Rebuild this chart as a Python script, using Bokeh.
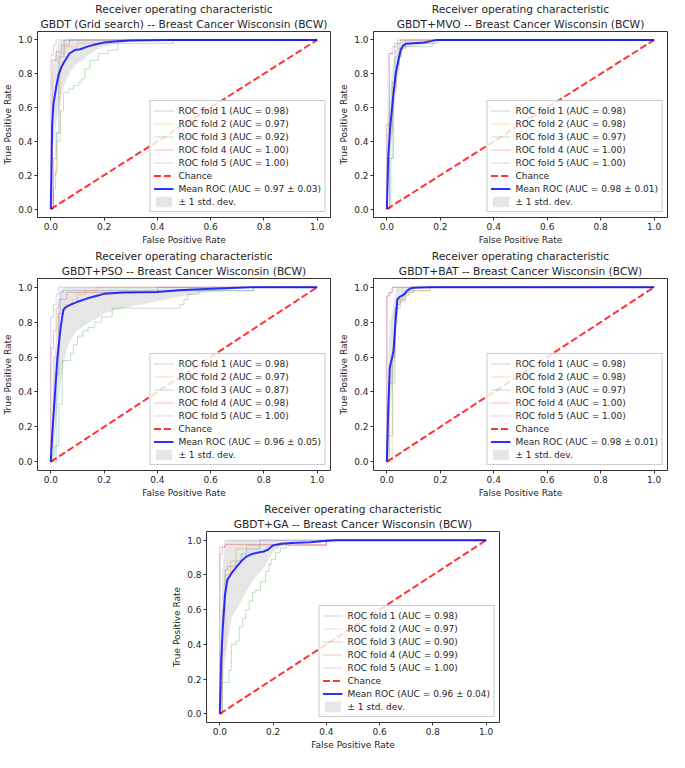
from bokeh.plotting import figure
from bokeh.layouts import column, row, Spacer
from bokeh.models import Range1d, FixedTicker, Legend, LegendItem, Title
from bokeh.embed import file_html
from bokeh.resources import INLINE

# ---------------- data ----------------
tick_values = [0.0, 0.2, 0.4, 0.6, 0.8, 1.0]
tick_labels = ["0.0", "0.2", "0.4", "0.6", "0.8", "1.0"]
chance_x = [0.0, 1.0]
chance_y = [0.0, 1.0]
title_line1 = "Receiver operating characteristic"
x_label = "False Positive Rate"
y_label = "True Positive Rate"

# Panel 1: GBDT (Grid search)
grid_title = "GBDT (Grid search) -- Breast Cancer Wisconsin (BCW)"
grid_auc = ["0.98", "0.97", "0.92", "1.00", "1.00"]
grid_mean_auc = "0.97 \u00b1 0.03"
grid_fold_fpr = [
    [0, 0.01, 0.02, 0.03, 0.05, 1.0],
    [0, 0.01, 0.02, 0.035, 0.05, 0.1, 0.25, 1.0],
    [0, 0.01, 0.018, 0.024, 0.036, 0.048, 0.067, 0.085, 0.105, 0.116, 0.128, 0.147, 0.178, 0.215, 0.251, 0.46, 1.0],
    [0, 0.005, 0.02, 0.04, 0.07, 1.0],
    [0, 0.0, 0.01, 0.02, 1.0],
]
grid_fold_tpr = [
    [0, 0.3, 0.45, 0.9, 1.0, 1.0],
    [0, 0.2, 0.4, 0.92, 0.96, 0.98, 1.0, 1.0],
    [0, 0.12, 0.22, 0.45, 0.58, 0.69, 0.71, 0.73, 0.75, 0.77, 0.83, 0.88, 0.92, 0.94, 0.98, 1.0, 1.0],
    [0, 0.88, 0.93, 0.97, 1.0, 1.0],
    [0, 0.91, 0.97, 1.0, 1.0],
]
grid_mean_fpr = [0, 0.005, 0.01, 0.02, 0.03, 0.04, 0.05, 0.07, 0.09, 0.11, 0.14, 0.17, 0.2, 0.25, 0.3, 0.45, 1.0]
grid_mean_tpr = [0, 0.5, 0.62, 0.72, 0.8, 0.84, 0.87, 0.92, 0.94, 0.945, 0.962, 0.975, 0.985, 0.993, 0.997, 1.0, 1.0]
grid_std_lo = [0, 0.25, 0.38, 0.5, 0.6, 0.68, 0.73, 0.8, 0.85, 0.87, 0.91, 0.94, 0.96, 0.98, 0.99, 1.0, 1.0]
grid_std_hi = [0, 0.75, 0.86, 0.94, 0.99, 1, 1, 1, 1, 1, 1, 1, 1, 1, 1, 1, 1]

# Panel 2: GBDT+MVO
mvo_title = "GBDT+MVO -- Breast Cancer Wisconsin (BCW)"
mvo_auc = ["0.98", "0.98", "0.97", "1.00", "1.00"]
mvo_mean_auc = "0.98 \u00b1 0.01"
mvo_fold_fpr = [
    [0, 0.015, 0.025, 0.035, 0.045, 0.06, 0.18, 1.0],
    [0, 0.01, 0.02, 0.035, 0.045, 0.055, 0.07, 1.0],
    [0, 0.01, 0.02, 0.03, 0.05, 0.17, 0.19, 1.0],
    [0, 0.0, 0.01, 0.03, 0.05, 1.0],
    [0, 0.0, 0.005, 0.02, 0.04, 1.0],
]
mvo_fold_tpr = [
    [0, 0.3, 0.72, 0.85, 0.95, 0.98, 1.0, 1.0],
    [0, 0.45, 0.7, 0.8, 0.9, 0.95, 1.0, 1.0],
    [0, 0.3, 0.75, 0.9, 0.96, 0.98, 1.0, 1.0],
    [0, 0.5, 0.92, 0.98, 1.0, 1.0],
    [0, 0.47, 0.92, 0.96, 1.0, 1.0],
]
mvo_mean_fpr = [0, 0.005, 0.012, 0.024, 0.033, 0.043, 0.052, 0.06, 0.073, 0.14, 0.165, 0.185, 1.0]
mvo_mean_tpr = [0, 0.3, 0.48, 0.67, 0.8, 0.88, 0.94, 0.965, 0.978, 0.985, 0.993, 1.0, 1.0]
mvo_std_lo = [0, 0.1, 0.3, 0.5, 0.68, 0.8, 0.9, 0.94, 0.955, 0.97, 0.985, 1.0, 1.0]
mvo_std_hi = [0, 0.55, 0.7, 0.88, 0.94, 0.98, 1, 1, 1, 1, 1, 1, 1]

# Panel 3: GBDT+PSO
pso_title = "GBDT+PSO -- Breast Cancer Wisconsin (BCW)"
pso_auc = ["0.98", "0.97", "0.87", "0.98", "1.00"]
pso_mean_auc = "0.96 \u00b1 0.05"
pso_fold_fpr = [
    [0, 0.02, 0.03, 0.035, 0.045, 0.76, 1.0],
    [0, 0.01, 0.03, 0.05, 0.08, 0.1, 0.13, 0.17, 1.0],
    [0, 0.005, 0.015, 0.03, 0.043, 0.074, 0.085, 0.1, 0.12, 0.14, 0.165, 0.19, 0.23, 0.485, 0.5, 0.515, 0.555, 0.76, 1.0],
    [0, 0.0, 0.01, 0.02, 0.03, 0.06, 0.4, 1.0],
    [0, 0.0, 0.01, 0.02, 0.03, 1.0],
]
pso_fold_tpr = [
    [0, 0.5, 0.85, 0.97, 0.98, 1.0, 1.0],
    [0, 0.6, 0.85, 0.9, 0.93, 0.96, 0.98, 1.0, 1.0],
    [0, 0.04, 0.09, 0.33, 0.58, 0.62, 0.67, 0.72, 0.75, 0.77, 0.8, 0.83, 0.88, 0.9, 0.93, 0.96, 0.98, 1.0, 1.0],
    [0, 0.65, 0.75, 0.88, 0.93, 0.97, 1.0, 1.0],
    [0, 0.83, 0.9, 0.96, 1.0, 1.0],
]
pso_mean_fpr = [0, 0.005, 0.012, 0.025, 0.037, 0.047, 0.055, 0.074, 0.098, 0.135, 0.17, 0.2, 0.27, 0.4, 0.48, 0.58, 0.75, 1.0]
pso_mean_tpr = [0, 0.15, 0.31, 0.6, 0.77, 0.87, 0.885, 0.9, 0.915, 0.935, 0.95, 0.962, 0.97, 0.973, 0.982, 0.99, 1.0, 1.0]
pso_std_lo = [0, 0.05, 0.12, 0.3, 0.45, 0.55, 0.62, 0.7, 0.75, 0.79, 0.82, 0.85, 0.88, 0.92, 0.945, 0.97, 1.0, 1.0]
pso_std_hi = [0, 0.3, 0.55, 0.85, 0.98, 1, 1, 1, 1, 1, 1, 1, 1, 1, 1, 1, 1, 1]

# Panel 4: GBDT+BAT
bat_title = "GBDT+BAT -- Breast Cancer Wisconsin (BCW)"
bat_auc = ["0.98", "0.98", "0.97", "1.00", "1.00"]
bat_mean_auc = "0.98 \u00b1 0.01"
bat_fold_fpr = [
    [0, 0.01, 0.02, 0.03, 0.04, 0.06, 0.1, 1.0],
    [0, 0.02, 0.03, 0.04, 0.05, 0.07, 0.09, 0.16, 1.0],
    [0, 0.005, 0.022, 0.03, 0.04, 0.05, 0.07, 0.08, 0.16, 1.0],
    [0, 0.0, 0.01, 0.02, 1.0],
    [0, 0.0, 0.005, 0.02, 1.0],
]
bat_fold_tpr = [
    [0, 0.45, 0.6, 0.85, 0.93, 0.97, 1.0, 1.0],
    [0, 0.6, 0.8, 0.88, 0.93, 0.96, 0.98, 1.0, 1.0],
    [0, 0.15, 0.45, 0.88, 0.9, 0.92, 0.95, 0.98, 1.0, 1.0],
    [0, 0.95, 0.97, 1.0, 1.0],
    [0, 0.95, 0.97, 1.0, 1.0],
]
bat_mean_fpr = [0, 0.005, 0.011, 0.02, 0.025, 0.03, 0.035, 0.039, 0.048, 0.057, 0.066, 0.075, 0.088, 0.1, 0.16, 1.0]
bat_mean_tpr = [0, 0.3, 0.54, 0.6, 0.64, 0.75, 0.86, 0.93, 0.945, 0.952, 0.96, 0.98, 0.993, 0.997, 1.0, 1.0]
bat_std_lo = [0, 0.05, 0.3, 0.42, 0.48, 0.6, 0.75, 0.86, 0.9, 0.92, 0.93, 0.96, 0.985, 0.99, 1.0, 1.0]
bat_std_hi = [0, 0.6, 0.8, 0.85, 0.9, 0.95, 0.99, 1, 1, 1, 1, 1, 1, 1, 1, 1]

# Panel 5: GBDT+GA
ga_title = "GBDT+GA -- Breast Cancer Wisconsin (BCW)"
ga_auc = ["0.98", "0.97", "0.90", "0.99", "1.00"]
ga_mean_auc = "0.96 \u00b1 0.04"
ga_fold_fpr = [
    [0, 0.01, 0.02, 0.03, 0.06, 0.08, 0.1, 0.15, 1.0],
    [0, 0.01, 0.02, 0.04, 0.06, 0.1, 0.4, 1.0],
    [0, 0.007, 0.034, 0.043, 0.061, 0.073, 0.086, 0.098, 0.11, 0.123, 0.135, 0.153, 0.172, 0.184, 0.193, 0.209, 0.227, 0.25, 0.4, 1.0],
    [0, 0.0, 0.02, 0.4, 1.0],
    [0, 0.0, 0.01, 0.02, 1.0],
]
ga_fold_tpr = [
    [0, 0.6, 0.83, 0.85, 0.88, 0.92, 0.95, 1.0, 1.0],
    [0, 0.37, 0.8, 0.88, 0.95, 0.97, 1.0, 1.0],
    [0, 0.18, 0.25, 0.4, 0.42, 0.5, 0.55, 0.6, 0.65, 0.7, 0.71, 0.76, 0.82, 0.86, 0.89, 0.93, 0.955, 0.97, 1.0, 1.0],
    [0, 0.96, 0.975, 1.0, 1.0],
    [0, 0.92, 0.96, 1.0, 1.0],
]
ga_mean_fpr = [0, 0.005, 0.011, 0.019, 0.028, 0.044, 0.062, 0.081, 0.099, 0.12, 0.14, 0.165, 0.18, 0.2, 0.23, 0.27, 0.34, 0.39, 0.44, 1.0]
ga_mean_tpr = [0, 0.3, 0.49, 0.68, 0.77, 0.81, 0.845, 0.88, 0.905, 0.92, 0.928, 0.935, 0.945, 0.97, 0.979, 0.984, 0.988, 0.995, 1.0, 1.0]
ga_std_lo = [0, 0.05, 0.15, 0.3, 0.4, 0.55, 0.6, 0.65, 0.7, 0.76, 0.8, 0.84, 0.88, 0.93, 0.97, 0.98, 0.985, 0.99, 1.0, 1.0]
ga_std_hi = [0, 0.55, 0.85, 0.98, 1, 1, 1, 1, 1, 1, 1, 1, 1, 1, 1, 1, 1, 1, 1, 1]

# ---------------- style ----------------
FONT = "DejaVu Sans"
TXT = "#262626"
fold_colors = ["#1f77b4", "#ff7f0e", "#2ca02c", "#d62728", "#9467bd"]


def make_panel(subtitle, fold_fpr, fold_tpr, fold_auc, mean_fpr, mean_tpr, lo, hi,
               mean_auc, width, height, bl, br, bt, bb):
    p = figure(width=width, height=height, x_range=Range1d(-0.05, 1.05),
               y_range=Range1d(-0.05, 1.05), output_backend="svg",
               toolbar_location=None, title=None,
               min_border_left=bl, min_border_right=br,
               min_border_top=bt, min_border_bottom=bb)
    p.add_layout(Title(text=subtitle, align="center", text_font=FONT,
                       text_font_size="10.7px", text_font_style="normal",
                       text_color=TXT, standoff=1, offset=0), "above")
    p.add_layout(Title(text=title_line1, align="center", text_font=FONT,
                       text_font_size="10.7px", text_font_style="normal",
                       text_color=TXT, standoff=0, offset=0), "above")
    p.xgrid.visible = False
    p.ygrid.visible = False
    p.outline_line_color = "#333333"
    p.outline_line_width = 1
    p.outline_line_alpha = 1
    for ax, lab in ((p.xaxis[0], x_label), (p.yaxis[0], y_label)):
        ax.ticker = FixedTicker(ticks=tick_values)
        ax.major_label_overrides = dict(zip(tick_values, tick_labels))
        ax.axis_line_color = None
        ax.major_tick_line_color = "#333333"
        ax.major_tick_out = 3
        ax.major_tick_in = 0
        ax.minor_tick_line_color = None
        ax.major_label_text_font = FONT
        ax.major_label_text_font_size = "9px"
        ax.major_label_text_color = TXT
        ax.major_label_standoff = 2
        ax.axis_label = lab
        ax.axis_label_text_font = FONT
        ax.axis_label_text_font_size = "9px"
        ax.axis_label_text_font_style = "normal"
        ax.axis_label_text_color = TXT
        ax.axis_label_standoff = 2

    band = p.varea(x=mean_fpr, y1=lo, y2=hi, fill_color="#808080", fill_alpha=0.2)
    items = []
    for i in range(5):
        r = p.step(x=fold_fpr[i], y=fold_tpr[i], mode="after", line_color=fold_colors[i],
                   line_width=1, line_alpha=0.3)
        items.append(LegendItem(label="ROC fold %d (AUC = %s)" % (i + 1, fold_auc[i]), renderers=[r]))
    rc = p.line(x=chance_x, y=chance_y, line_color="#ff0000", line_width=2, line_alpha=0.8,
                line_dash="7 3")
    items.append(LegendItem(label="Chance", renderers=[rc]))
    rm = p.line(x=mean_fpr, y=mean_tpr, line_color="#0000ff", line_width=2, line_alpha=0.8)
    items.append(LegendItem(label="Mean ROC (AUC = %s)" % mean_auc, renderers=[rm]))
    items.append(LegendItem(label="\u00b1 1 std. dev.", renderers=[band]))

    leg = Legend(items=items, location="bottom_right")
    leg.label_text_font = FONT
    leg.label_text_font_size = "9px"
    leg.label_text_color = TXT
    leg.label_height = 13
    leg.glyph_height = 13
    leg.glyph_width = 20
    leg.label_standoff = 5
    leg.spacing = 0
    leg.padding = 3
    leg.margin = 5
    leg.border_line_color = "#cccccc"
    leg.border_line_alpha = 1
    leg.background_fill_alpha = 0.8
    p.add_layout(leg)
    return p


p1 = make_panel(grid_title, grid_fold_fpr, grid_fold_tpr, grid_auc, grid_mean_fpr, grid_mean_tpr,
                grid_std_lo, grid_std_hi, grid_mean_auc, 336, 247, 34, 6, 20, 20)
p2 = make_panel(mvo_title, mvo_fold_fpr, mvo_fold_tpr, mvo_auc, mvo_mean_fpr, mvo_mean_tpr,
                mvo_std_lo, mvo_std_hi, mvo_mean_auc, 333, 247, 34, 2, 20, 20)
p3 = make_panel(pso_title, pso_fold_fpr, pso_fold_tpr, pso_auc, pso_mean_fpr, pso_mean_tpr,
                pso_std_lo, pso_std_hi, pso_mean_auc, 336, 253, 34, 6, 26, 20)
p4 = make_panel(bat_title, bat_fold_fpr, bat_fold_tpr, bat_auc, bat_mean_fpr, bat_mean_tpr,
                bat_std_lo, bat_std_hi, bat_mean_auc, 333, 253, 34, 2, 26, 20)
p5 = make_panel(ga_title, ga_fold_fpr, ga_fold_tpr, ga_auc, ga_mean_fpr, ga_mean_tpr,
                ga_std_lo, ga_std_hi, ga_mean_auc, 336, 252, 34, 6, 26, 20)

layout = column(row(p1, p2), row(p3, p4), row(Spacer(width=169, height=252), p5))

open("out.html", "w").write(file_html(layout, INLINE))
